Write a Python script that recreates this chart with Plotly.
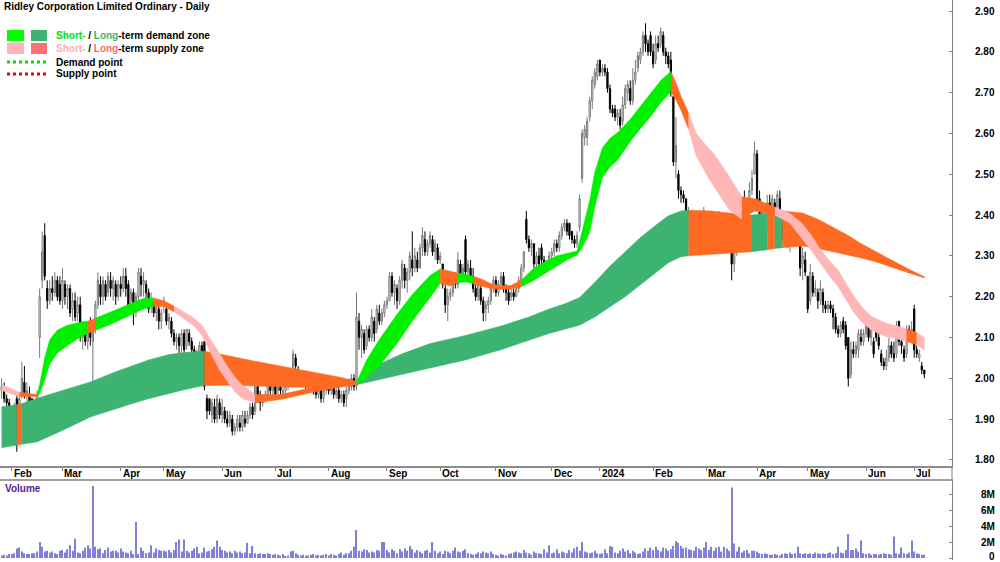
import pandas as pd
import plotly.graph_objects as go

# ---------------- data ----------------
TITLE = "Ridley Corporation Limited Ordinary - Daily"
START, END = "2023-01-25", "2024-07-05"
HOLIDAYS = ["2023-01-26", "2023-04-07", "2023-04-10", "2023-04-25", "2023-06-12",
            "2023-12-25", "2023-12-26", "2024-01-01", "2024-01-26", "2024-03-29",
            "2024-04-01", "2024-04-25", "2024-06-10"]
month_labels = ["Feb", "Mar", "Apr", "May", "Jun", "Jul", "Aug", "Sep", "Oct", "Nov",
                "Dec", "2024", "Feb", "Mar", "Apr", "May", "Jun", "Jul"]
price_ticks = [1.80, 1.90, 2.00, 2.10, 2.20, 2.30, 2.40, 2.50, 2.60, 2.70, 2.80, 2.90]
vol_ticks = [0, 2, 4, 6, 8]
vol_tick_text = ["0", "2M", "4M", "6M", "8M"]

opens = [
    1.97, 1.98, 1.95, 1.94,
    1.92, 1.91, 1.95, 1.87, 1.96, 1.99, 1.96, 1.96, 1.95, 1.89, 1.91, 2.10, 2.24, 2.35, 2.22, 2.19, 2.22, 2.21, 2.24, 2.23,
    2.19, 2.23, 2.20, 2.22, 2.17, 2.19, 2.16, 2.18, 2.10, 2.12, 2.09, 2.12, 2.09, 2.13, 2.18, 2.23, 2.20, 2.23, 2.21, 2.24, 2.22, 2.23, 2.20,
    2.23, 2.22, 2.25, 2.23, 2.19, 2.21, 2.17, 2.20, 2.25, 2.23, 2.23, 2.21, 2.18, 2.18, 2.16, 2.17, 2.14,
    2.18, 2.17, 2.14, 2.14, 2.11, 2.09, 2.10, 2.08, 2.11, 2.08, 2.11, 2.09, 2.07, 2.05, 2.06, 2.08, 2.09, 1.95, 1.95, 1.91, 1.93, 1.90, 1.94,
    1.91, 1.92, 1.90, 1.89, 1.90, 1.87, 1.88, 1.89, 1.88, 1.90, 1.89, 1.91, 1.93, 1.92, 1.98, 1.96, 1.94, 1.95, 1.95, 1.99, 1.97,
    2.00, 1.97, 1.98, 1.96, 1.97, 1.98, 2.00, 1.99, 2.05, 2.02, 2.00, 2.00, 1.99, 1.99, 1.98, 1.99, 1.97, 1.96, 1.97, 1.95, 1.97,
    1.98, 1.97, 1.98, 1.96, 1.97, 1.95, 1.96, 1.95, 1.97, 1.98, 2.00, 1.98, 2.14, 2.10, 2.11, 2.08, 2.12, 2.10, 2.14, 2.12, 2.16, 2.14, 2.16,
    2.18, 2.19, 2.25, 2.21, 2.22, 2.19, 2.24, 2.27, 2.24, 2.26, 2.29, 2.27, 2.29, 2.27, 2.32, 2.34, 2.31, 2.33, 2.34, 2.31, 2.32,
    2.29, 2.28, 2.22, 2.18, 2.20, 2.21, 2.24, 2.23, 2.28, 2.25, 2.34, 2.26, 2.27, 2.25, 2.22, 2.20, 2.22, 2.19, 2.17, 2.18, 2.19, 2.22,
    2.24, 2.21, 2.23, 2.25, 2.22, 2.21, 2.20, 2.21, 2.20, 2.22, 2.24, 2.27, 2.39, 2.34, 2.32, 2.33, 2.28, 2.30, 2.32, 2.29, 2.27, 2.28,
    2.30, 2.31, 2.33, 2.32, 2.35, 2.37, 2.38, 2.38, 2.36, 2.34, 2.33, 2.37, 2.49, 2.59, 2.59, 2.64, 2.68, 2.72, 2.74,
    2.78, 2.75, 2.76, 2.75, 2.71, 2.66, 2.66, 2.64, 2.64, 2.63, 2.67, 2.70, 2.71, 2.68, 2.73, 2.76, 2.78, 2.80, 2.84, 2.82, 2.84,
    2.80, 2.78, 2.82, 2.82, 2.84, 2.80, 2.79, 2.78, 2.69, 2.53, 2.50, 2.46, 2.45, 2.44, 2.35, 2.40, 2.38, 2.40, 2.36, 2.39, 2.38,
    2.40, 2.37, 2.40, 2.37, 2.39, 2.38, 2.39, 2.37, 2.35, 2.35, 2.31, 2.28, 2.31, 2.33, 2.35, 2.42, 2.39, 2.43, 2.46, 2.50,
    2.55, 2.44, 2.40, 2.36, 2.37, 2.43, 2.41, 2.43, 2.42, 2.44, 2.38, 2.35, 2.34, 2.34, 2.37, 2.38, 2.39, 2.34, 2.28, 2.29,
    2.25, 2.19, 2.25, 2.21, 2.21, 2.19, 2.21, 2.18, 2.17, 2.18, 2.17, 2.15, 2.12, 2.11, 2.14, 2.13, 2.10, 2.01, 2.07, 2.06, 2.07, 2.10, 2.09,
    2.11, 2.13, 2.10, 2.09, 2.14, 2.10, 2.06, 2.04, 2.03, 2.05, 2.08, 2.06, 2.06, 2.14, 2.09, 2.07, 2.06, 2.12, 2.10,
    2.17, 2.07, 2.05, 2.03, 2.02,
]
highs = [
    2.00, 1.99, 1.96, 1.95,
    1.93, 1.94, 1.96, 1.96, 2.04, 2.03, 1.99, 1.98, 1.95, 1.93, 1.97, 2.22, 2.36, 2.38, 2.24, 2.24, 2.25, 2.26, 2.25, 2.25,
    2.27, 2.24, 2.23, 2.23, 2.21, 2.21, 2.20, 2.20, 2.14, 2.13, 2.14, 2.15, 2.13, 2.19, 2.26, 2.25, 2.25, 2.24, 2.26, 2.26, 2.25, 2.24, 2.24,
    2.25, 2.27, 2.27, 2.24, 2.22, 2.22, 2.21, 2.27, 2.27, 2.26, 2.24, 2.22, 2.21, 2.19, 2.19, 2.18, 2.17,
    2.20, 2.18, 2.16, 2.15, 2.12, 2.11, 2.11, 2.12, 2.12, 2.12, 2.12, 2.10, 2.08, 2.07, 2.09, 2.09, 2.09, 1.96, 1.95, 1.95, 1.95, 1.96, 1.95,
    1.95, 1.93, 1.92, 1.92, 1.91, 1.89, 1.91, 1.91, 1.92, 1.92, 1.92, 1.94, 1.94, 2.00, 1.99, 1.97, 1.96, 1.97, 2.03, 2.00, 2.00,
    2.01, 1.99, 1.99, 1.98, 1.99, 2.02, 2.02, 2.07, 2.06, 2.03, 2.02, 2.01, 2.00, 2.00, 2.01, 2.00, 1.98, 1.98, 1.98, 1.98, 1.99,
    1.99, 2.00, 1.99, 1.98, 1.98, 1.97, 1.97, 1.98, 2.00, 2.01, 2.01, 2.21, 2.16, 2.13, 2.12, 2.13, 2.13, 2.17, 2.15, 2.18, 2.18, 2.17, 2.19,
    2.20, 2.26, 2.26, 2.24, 2.23, 2.25, 2.29, 2.28, 2.27, 2.31, 2.36, 2.32, 2.31, 2.33, 2.37, 2.36, 2.34, 2.36, 2.35, 2.34, 2.33,
    2.31, 2.28, 2.23, 2.22, 2.22, 2.25, 2.26, 2.31, 2.29, 2.28, 2.35, 2.29, 2.29, 2.27, 2.24, 2.24, 2.23, 2.20, 2.19, 2.20, 2.23, 2.25,
    2.25, 2.24, 2.26, 2.26, 2.23, 2.22, 2.22, 2.22, 2.23, 2.25, 2.28, 2.31, 2.41, 2.35, 2.34, 2.33, 2.31, 2.32, 2.33, 2.30, 2.29, 2.31,
    2.32, 2.34, 2.34, 2.36, 2.38, 2.39, 2.39, 2.38, 2.36, 2.35, 2.36, 2.45, 2.61, 2.62, 2.64, 2.69, 2.74, 2.76, 2.78,
    2.78, 2.77, 2.77, 2.76, 2.72, 2.67, 2.67, 2.66, 2.66, 2.69, 2.72, 2.73, 2.73, 2.76, 2.78, 2.80, 2.81, 2.85, 2.87, 2.83, 2.85,
    2.82, 2.84, 2.84, 2.86, 2.85, 2.81, 2.80, 2.80, 2.69, 2.64, 2.51, 2.47, 2.46, 2.44, 2.42, 2.41, 2.41, 2.41, 2.40, 2.40, 2.42,
    2.41, 2.41, 2.41, 2.40, 2.40, 2.41, 2.40, 2.38, 2.37, 2.35, 2.32, 2.32, 2.34, 2.36, 2.41, 2.46, 2.44, 2.48, 2.51, 2.58,
    2.56, 2.46, 2.41, 2.38, 2.45, 2.45, 2.45, 2.44, 2.46, 2.46, 2.39, 2.36, 2.36, 2.38, 2.39, 2.39, 2.40, 2.34, 2.32, 2.31,
    2.25, 2.28, 2.26, 2.24, 2.22, 2.24, 2.22, 2.19, 2.19, 2.19, 2.18, 2.16, 2.13, 2.14, 2.15, 2.14, 2.10, 2.09, 2.09, 2.09, 2.12, 2.12, 2.12,
    2.15, 2.14, 2.13, 2.10, 2.14, 2.11, 2.07, 2.05, 2.07, 2.10, 2.09, 2.09, 2.14, 2.14, 2.10, 2.08, 2.13, 2.13, 2.14,
    2.18, 2.08, 2.07, 2.04, 2.02,
]
lows = [
    1.95, 1.94, 1.92, 1.91,
    1.89, 1.90, 1.82, 1.85, 1.95, 1.95, 1.93, 1.91, 1.87, 1.87, 1.90, 2.05, 2.22, 2.24, 2.17, 2.18, 2.19, 2.20, 2.19, 2.18,
    2.17, 2.18, 2.17, 2.15, 2.14, 2.14, 2.14, 2.09, 2.07, 2.08, 2.07, 2.08, 1.98, 2.11, 2.17, 2.18, 2.18, 2.19, 2.20, 2.20, 2.19, 2.18, 2.19,
    2.20, 2.21, 2.20, 2.17, 2.16, 2.13, 2.15, 2.19, 2.20, 2.20, 2.19, 2.16, 2.16, 2.15, 2.14, 2.12, 2.12,
    2.16, 2.13, 2.12, 2.10, 2.08, 2.07, 2.04, 2.06, 2.06, 2.07, 2.08, 2.06, 2.04, 2.04, 2.05, 2.05, 1.97, 1.90, 1.91, 1.89, 1.89, 1.89, 1.90,
    1.89, 1.89, 1.88, 1.88, 1.86, 1.86, 1.87, 1.87, 1.87, 1.88, 1.89, 1.90, 1.90, 1.91, 1.94, 1.92, 1.93, 1.94, 1.95, 1.96, 1.96,
    1.95, 1.96, 1.96, 1.95, 1.96, 1.97, 1.98, 1.99, 2.01, 1.99, 1.99, 1.98, 1.97, 1.97, 1.97, 1.96, 1.95, 1.95, 1.94, 1.94, 1.96,
    1.96, 1.96, 1.95, 1.95, 1.94, 1.94, 1.93, 1.93, 1.96, 1.97, 1.97, 1.97, 2.07, 2.05, 2.06, 2.07, 2.09, 2.09, 2.09, 2.11, 2.13, 2.13, 2.15,
    2.17, 2.19, 2.20, 2.18, 2.17, 2.18, 2.22, 2.22, 2.21, 2.24, 2.25, 2.26, 2.26, 2.27, 2.30, 2.30, 2.30, 2.32, 2.30, 2.29, 2.28,
    2.28, 2.22, 2.16, 2.14, 2.19, 2.20, 2.22, 2.22, 2.24, 2.24, 2.25, 2.25, 2.24, 2.21, 2.19, 2.19, 2.18, 2.14, 2.14, 2.16, 2.18, 2.21,
    2.20, 2.20, 2.22, 2.21, 2.19, 2.18, 2.19, 2.19, 2.20, 2.21, 2.23, 2.26, 2.33, 2.31, 2.30, 2.27, 2.26, 2.27, 2.28, 2.26, 2.26, 2.27,
    2.29, 2.30, 2.31, 2.31, 2.34, 2.36, 2.35, 2.34, 2.33, 2.32, 2.32, 2.36, 2.48, 2.57, 2.57, 2.63, 2.66, 2.71, 2.73,
    2.74, 2.74, 2.74, 2.70, 2.65, 2.64, 2.63, 2.62, 2.61, 2.62, 2.66, 2.68, 2.67, 2.67, 2.72, 2.75, 2.77, 2.79, 2.80, 2.79, 2.79,
    2.76, 2.77, 2.80, 2.81, 2.79, 2.77, 2.76, 2.69, 2.52, 2.49, 2.44, 2.43, 2.43, 2.31, 2.34, 2.36, 2.37, 2.35, 2.35, 2.36, 2.37,
    2.36, 2.35, 2.36, 2.35, 2.37, 2.37, 2.35, 2.34, 2.33, 2.32, 2.24, 2.26, 2.30, 2.33, 2.34, 2.38, 2.38, 2.42, 2.45, 2.50,
    2.42, 2.39, 2.35, 2.35, 2.36, 2.39, 2.40, 2.40, 2.41, 2.37, 2.34, 2.33, 2.32, 2.31, 2.35, 2.35, 2.34, 2.25, 2.24, 2.25,
    2.16, 2.18, 2.20, 2.20, 2.17, 2.18, 2.16, 2.16, 2.16, 2.16, 2.12, 2.11, 2.10, 2.10, 2.11, 2.07, 1.98, 2.00, 2.05, 2.05, 2.05, 2.08, 2.08,
    2.10, 2.09, 2.08, 2.05, 2.09, 2.07, 2.03, 2.02, 2.02, 2.04, 2.05, 2.04, 2.05, 2.08, 2.06, 2.04, 2.05, 2.09, 2.09,
    2.05, 2.05, 2.04, 2.01, 2.00,
]
closes = [
    1.98, 1.95, 1.94, 1.92,
    1.91, 1.93, 1.86, 1.95, 2.00, 1.96, 1.97, 1.93, 1.88, 1.91, 1.96, 2.20, 2.31, 2.25, 2.19, 2.22, 2.21, 2.24, 2.20, 2.19,
    2.24, 2.20, 2.22, 2.16, 2.19, 2.15, 2.18, 2.10, 2.12, 2.09, 2.13, 2.10, 2.12, 2.18, 2.24, 2.20, 2.24, 2.20, 2.25, 2.22, 2.24, 2.20, 2.23,
    2.22, 2.25, 2.22, 2.18, 2.21, 2.16, 2.20, 2.26, 2.23, 2.24, 2.21, 2.17, 2.19, 2.16, 2.18, 2.14, 2.16,
    2.19, 2.14, 2.15, 2.11, 2.09, 2.10, 2.08, 2.11, 2.07, 2.12, 2.09, 2.07, 2.05, 2.06, 2.08, 2.06, 1.98, 1.92, 1.92, 1.94, 1.90, 1.95, 1.91,
    1.93, 1.90, 1.89, 1.91, 1.87, 1.88, 1.90, 1.88, 1.91, 1.89, 1.91, 1.93, 1.91, 1.99, 1.96, 1.94, 1.95, 1.96, 1.99, 1.97, 1.99,
    1.96, 1.98, 1.97, 1.97, 1.98, 2.00, 1.99, 2.06, 2.03, 2.00, 2.01, 1.99, 1.98, 1.98, 2.00, 1.97, 1.96, 1.97, 1.95, 1.97, 1.98,
    1.97, 1.99, 1.96, 1.97, 1.95, 1.96, 1.94, 1.97, 1.99, 2.00, 1.98, 2.15, 2.10, 2.12, 2.07, 2.12, 2.10, 2.15, 2.11, 2.17, 2.14, 2.16, 2.18,
    2.19, 2.25, 2.21, 2.23, 2.19, 2.24, 2.28, 2.24, 2.26, 2.30, 2.27, 2.30, 2.27, 2.32, 2.35, 2.31, 2.33, 2.35, 2.31, 2.33, 2.29,
    2.30, 2.23, 2.18, 2.20, 2.21, 2.24, 2.23, 2.29, 2.25, 2.27, 2.26, 2.28, 2.25, 2.22, 2.20, 2.23, 2.19, 2.16, 2.18, 2.19, 2.22, 2.24,
    2.21, 2.23, 2.25, 2.22, 2.21, 2.19, 2.21, 2.20, 2.22, 2.24, 2.27, 2.31, 2.34, 2.32, 2.33, 2.28, 2.30, 2.28, 2.29, 2.27, 2.28, 2.30,
    2.31, 2.33, 2.32, 2.35, 2.37, 2.38, 2.36, 2.35, 2.34, 2.33, 2.35, 2.44, 2.60, 2.61, 2.63, 2.68, 2.73, 2.75, 2.77,
    2.75, 2.76, 2.75, 2.71, 2.66, 2.65, 2.64, 2.65, 2.62, 2.67, 2.71, 2.72, 2.68, 2.73, 2.75, 2.79, 2.80, 2.84, 2.82, 2.80, 2.80,
    2.77, 2.82, 2.81, 2.85, 2.80, 2.79, 2.77, 2.70, 2.53, 2.57, 2.46, 2.45, 2.44, 2.33, 2.40, 2.38, 2.40, 2.36, 2.39, 2.37, 2.41,
    2.37, 2.40, 2.37, 2.39, 2.38, 2.40, 2.36, 2.35, 2.34, 2.32, 2.28, 2.31, 2.33, 2.35, 2.40, 2.39, 2.43, 2.46, 2.49, 2.55,
    2.44, 2.40, 2.36, 2.37, 2.43, 2.41, 2.44, 2.41, 2.45, 2.40, 2.35, 2.34, 2.35, 2.37, 2.38, 2.36, 2.34, 2.27, 2.30, 2.26,
    2.17, 2.26, 2.21, 2.22, 2.19, 2.22, 2.18, 2.17, 2.18, 2.17, 2.15, 2.12, 2.11, 2.13, 2.12, 2.08, 2.00, 2.07, 2.06, 2.08, 2.11, 2.09, 2.11,
    2.14, 2.10, 2.12, 2.06, 2.10, 2.08, 2.04, 2.03, 2.05, 2.08, 2.06, 2.05, 2.12, 2.09, 2.08, 2.05, 2.12, 2.10, 2.12,
    2.07, 2.06, 2.06, 2.02, 2.01,
]
volume_m = [
    0.3, 0.4, 0.3, 0.5,
    0.5, 0.6, 1.2, 1.3, 0.8, 0.6, 0.5, 0.5, 0.6, 0.6, 0.8, 2.0, 1.4, 0.8, 0.9, 0.7, 0.8, 0.6, 0.5, 0.9,
    1.0, 0.7, 1.1, 1.6, 0.9, 2.4, 0.7, 0.6, 0.9, 1.3, 1.6, 1.2, 9.0, 1.4, 1.1, 1.2, 0.6, 1.0, 1.3, 0.8, 0.9, 0.9, 0.7,
    1.2, 0.8, 0.7, 0.6, 0.9, 0.5, 4.5, 0.5, 1.3, 0.9, 0.6, 0.7, 1.6, 0.7, 1.2, 1.0, 0.9,
    0.9, 0.8, 1.0, 0.7, 1.0, 2.0, 2.3, 0.8, 2.3, 0.9, 0.7, 0.9, 1.2, 1.4, 0.6, 0.7, 1.3, 0.8, 0.9, 1.1, 1.4, 2.2, 1.4,
    1.0, 0.9, 0.7, 0.8, 0.6, 0.9, 0.7, 0.8, 0.6, 0.7, 1.9, 0.6, 1.5, 0.6, 0.5, 0.6, 0.5, 0.5, 0.6, 0.5, 0.4,
    0.5, 0.4, 0.3, 0.5, 0.2, 0.3, 0.8, 0.9, 0.6, 0.4, 0.3, 0.4, 0.3, 0.3, 0.4, 0.5, 0.3, 0.4, 0.3, 0.4, 0.5,
    0.3, 0.5, 0.4, 0.3, 0.5, 0.7, 0.4, 0.6, 0.6, 0.9, 1.4, 3.5, 0.9, 0.8, 1.1, 1.0, 0.7, 0.8, 0.7, 1.0, 0.9, 2.0, 2.0,
    1.0, 0.7, 1.1, 0.9, 0.6, 1.1, 0.8, 1.2, 0.9, 1.5, 1.1, 0.7, 1.0, 0.8, 0.6, 0.9, 1.0, 0.7, 2.0, 0.9, 0.6,
    0.8, 0.5, 0.9, 0.8, 0.6, 0.9, 1.3, 0.8, 0.7, 0.9, 1.1, 0.6, 0.5, 0.4, 0.5, 0.7, 0.6, 0.8, 0.7, 0.6, 0.8, 0.5,
    0.4, 0.3, 0.5, 0.4, 0.3, 0.5, 0.6, 0.7, 0.8, 0.7, 0.6, 1.0, 0.7, 0.6, 0.4, 0.8, 0.6, 0.6, 0.5, 1.1, 0.7, 1.6,
    0.6, 0.7, 1.1, 0.6, 0.8, 0.7, 0.6, 1.0, 0.7, 1.2, 1.4, 0.9, 2.0, 0.8, 0.7, 0.6, 0.7, 0.9, 0.6,
    0.5, 0.6, 1.1, 0.6, 1.5, 1.4, 0.7, 0.6, 0.9, 1.2, 0.8, 1.0, 0.6, 0.9, 0.7, 0.5, 0.6, 0.8, 1.2, 0.9, 1.3,
    1.0, 1.4, 1.0, 0.8, 1.3, 1.2, 0.9, 1.1, 1.5, 2.1, 1.9, 1.5, 1.2, 1.3, 1.1, 1.0, 0.9, 1.4, 1.2, 1.0, 1.3,
    2.0, 1.0, 1.4, 0.9, 1.3, 1.4, 0.8, 1.4, 1.2, 0.9, 8.8, 1.8, 0.8, 1.4, 0.7, 0.9, 1.0, 0.6, 0.9, 0.9,
    0.8, 0.6, 0.5, 0.6, 0.5, 0.4, 0.4, 0.5, 0.4, 0.3, 0.5, 0.6, 0.5, 0.7, 0.5, 0.6, 1.4, 0.6, 0.5, 0.6,
    0.5, 0.6, 0.5, 0.7, 0.6, 0.5, 0.6, 0.5, 0.6, 0.7, 0.5, 0.6, 1.4, 0.7, 0.6, 1.0, 3.0, 1.0, 1.0, 1.2, 0.8, 2.2, 0.6,
    0.5, 0.6, 0.4, 0.5, 0.5, 0.4, 0.5, 0.6, 0.5, 0.5, 0.4, 2.7, 0.6, 0.5, 1.3, 0.6, 0.5, 0.7, 2.2,
    0.8, 0.6, 0.5, 0.4, 0.4,
]

# short-term zone: sample day index, upper / lower edge, state of each interval
st_idx = [0, 7, 14, 15, 17, 19, 22, 26, 30, 34,
          37, 44, 52, 56, 60, 64, 68, 72, 76, 79,
          82, 86, 89, 92, 95, 100, 110, 126, 140, 144,
          149, 156, 162, 169, 173, 177, 180, 183, 186, 189,
          193, 197, 201, 205, 210, 215, 219, 223, 227, 229,
          232, 234, 237, 240, 243, 248, 252, 256, 260, 264,
          266, 268, 271, 274, 278, 281, 287, 292, 297, 305,
          311, 316, 320, 323, 327, 330, 333, 336, 339, 343,
          349, 353, 357, 361, 364]
st_hi = [1.985, 1.966, 1.960, 1.985, 2.050, 2.095, 2.118, 2.130, 2.136, 2.140,
         2.147, 2.165, 2.184, 2.196, 2.197, 2.190, 2.177, 2.163, 2.147, 2.130,
         2.100, 2.058, 2.030, 2.003, 1.983, 1.960, 1.960, 1.982, 1.990, 2.045,
         2.095, 2.157, 2.205, 2.252, 2.268, 2.262, 2.258, 2.255, 2.250, 2.244,
         2.232, 2.226, 2.228, 2.240, 2.270, 2.288, 2.300, 2.306, 2.312, 2.360,
         2.437, 2.505, 2.565, 2.588, 2.602, 2.635, 2.668, 2.698, 2.730, 2.752,
         2.725, 2.692, 2.650, 2.600, 2.570, 2.550, 2.495, 2.445, 2.440, 2.420,
         2.404, 2.378, 2.345, 2.316, 2.285, 2.265, 2.235, 2.203, 2.178, 2.152,
         2.135, 2.128, 2.122, 2.112, 2.100]
st_lo = [1.970, 1.955, 1.955, 1.962, 1.995, 2.035, 2.062, 2.080, 2.097, 2.110,
         2.117, 2.135, 2.158, 2.170, 2.176, 2.176, 2.163, 2.145, 2.128, 2.105,
         2.068, 2.020, 1.993, 1.967, 1.950, 1.940, 1.948, 1.970, 1.985, 2.002,
         2.030, 2.085, 2.140, 2.198, 2.232, 2.226, 2.234, 2.236, 2.232, 2.226,
         2.220, 2.218, 2.219, 2.224, 2.240, 2.260, 2.275, 2.290, 2.302, 2.320,
         2.358, 2.420, 2.492, 2.518, 2.535, 2.580, 2.612, 2.641, 2.675, 2.702,
         2.682, 2.657, 2.610, 2.545, 2.500, 2.470, 2.413, 2.390, 2.410, 2.400,
         2.380, 2.340, 2.308, 2.282, 2.247, 2.224, 2.193, 2.163, 2.140, 2.118,
         2.102, 2.097, 2.090, 2.082, 2.070]
st_state = ["P", "O", "G", "G", "G", "G", "G", "G", "G", "O",
            "G", "G", "G", "G", "O", "O", "P", "P", "P", "P",
            "P", "P", "P", "P", "P", "O", "O", "O", "G", "G",
            "G", "G", "G", "G", "O", "O", "G", "G", "O", "O",
            "O", "O", "O", "G", "G", "G", "G", "G", "G", "G",
            "G", "G", "G", "G", "G", "G", "G", "G", "G", "O",
            "O", "O", "P", "P", "P", "P", "P", "O", "O", "P",
            "P", "P", "P", "P", "P", "P", "P", "P", "P", "P",
            "P", "P", "O", "P"]

# long-term zone
lt_idx = [0, 6, 8, 14, 25, 35, 45, 51, 58, 66,
          72, 78, 80, 89, 98, 108, 118, 126, 134, 140,
          149, 158, 169, 183, 197, 208, 216, 222, 228, 234,
          240, 246, 252, 258, 263, 268, 271, 280, 287, 296,
          302, 305, 308, 316, 322, 328, 334, 339, 345, 351,
          357, 364]
lt_hi = [1.930, 1.935, 1.938, 1.951, 1.972, 1.991, 2.016, 2.030, 2.045, 2.058,
         2.063, 2.066, 2.066, 2.056, 2.044, 2.032, 2.021, 2.012, 2.002, 1.992,
         2.035, 2.060, 2.085, 2.105, 2.128, 2.150, 2.170, 2.182, 2.198, 2.235,
         2.275, 2.310, 2.345, 2.375, 2.398, 2.410, 2.412, 2.410, 2.405, 2.400,
         2.405, 2.408, 2.410, 2.405, 2.390, 2.370, 2.350, 2.330, 2.310, 2.290,
         2.270, 2.249]
lt_lo = [1.830, 1.836, 1.838, 1.844, 1.875, 1.905, 1.925, 1.937, 1.950, 1.963,
         1.972, 1.980, 1.982, 1.983, 1.982, 1.980, 1.978, 1.978, 1.980, 1.984,
         1.995, 2.008, 2.025, 2.045, 2.070, 2.093, 2.110, 2.120, 2.130, 2.150,
         2.175, 2.200, 2.228, 2.258, 2.283, 2.298, 2.300, 2.303, 2.306, 2.310,
         2.315, 2.318, 2.320, 2.324, 2.318, 2.310, 2.302, 2.295, 2.285, 2.272,
         2.260, 2.246]
lt_state = ["D", "O", "D", "D", "D", "D", "D", "D", "D", "D",
            "D", "D", "O", "O", "O", "O", "O", "O", "O", "D",
            "D", "D", "D", "D", "D", "D", "D", "D", "D", "D",
            "D", "D", "D", "D", "D", "D", "O", "O", "O", "D",
            "O", "D", "O", "O", "O", "O", "O", "O", "O", "O",
            "O"]

# ---------------- style ----------------
FONT = "Liberation Sans, Arial, sans-serif"
C_ST = {"G": "#00F000", "P": "#FFB6B6", "O": "#FF6A22"}
C_LT = {"D": "#3CB371", "O": "#FF6A22"}
W, H = 1000, 562
ML, MR, MT, MB = 0, 48, 0, 2
PW, PH = W - ML - MR, H - MT - MB


def pxx(x):
    return (x - ML) / PW


def pxy(y):
    return (PH - (y - MT)) / PH


# ---------------- x positions ----------------
hol = set(HOLIDAYS)
dates = [d for d in pd.bdate_range(START, END) if d.strftime("%Y-%m-%d") not in hol]
n = len(closes)
dates = dates[:n]
xs = list(range(n))
month_pos = [i for i in range(1, len(dates)) if dates[i].month != dates[i - 1].month]

fig = go.Figure()


def add_band(idx, hi, lo, states, cmap):
    runs = []
    start = 0
    for k in range(1, len(states) + 1):
        if k == len(states) or states[k] != states[start]:
            runs.append((start, k, states[start]))
            start = k
    for a, b, s in runs:
        px = [idx[j] for j in range(a, b + 1)] + [idx[j] for j in range(b, a - 1, -1)]
        py = [hi[j] for j in range(a, b + 1)] + [lo[j] for j in range(b, a - 1, -1)]
        fig.add_trace(go.Scatter(x=px, y=py, mode="lines", fill="toself", fillcolor=cmap[s],
                                 line=dict(width=0.5, color=cmap[s]), hoverinfo="skip",
                                 showlegend=False, xaxis="x", yaxis="y"))


add_band(lt_idx, lt_hi, lt_lo, lt_state, C_LT)
add_band(st_idx, st_hi, st_lo, st_state, C_ST)

fig.add_trace(go.Candlestick(
    x=xs, open=opens, high=highs, low=lows, close=closes,
    increasing=dict(line=dict(color="#777777", width=1), fillcolor="#ffffff"),
    decreasing=dict(line=dict(color="#000000", width=1), fillcolor="#000000"),
    whiskerwidth=0, showlegend=False, xaxis="x", yaxis="y"))

fig.add_trace(go.Bar(x=xs, y=volume_m, width=0.45, marker=dict(color="#8080D8", line=dict(width=0)),
                     showlegend=False, xaxis="x2", yaxis="y2"))

xr = [(0 - 1.6) / 2.535, (PW - 1.6) / 2.535]
fig.update_layout(
    width=W, height=H, margin=dict(l=ML, r=MR, t=MT, b=MB),
    paper_bgcolor="white", plot_bgcolor="white", showlegend=False,
    font=dict(family=FONT, size=10, color="black"),
    xaxis=dict(domain=[0, 1], anchor="y", range=xr, showgrid=False, zeroline=False,
               tickvals=month_pos, ticks="outside", ticklen=3, tickcolor="#808080",
               showticklabels=False, showline=True, linecolor="#8c8c8c", linewidth=2,
               rangeslider=dict(visible=False), fixedrange=True),
    yaxis=dict(domain=[pxy(466), 1], anchor="x", range=[1.785, 2.927], side="right",
               showgrid=False, zeroline=False, tickvals=price_ticks, ticks="inside",
               ticklen=3, tickcolor="#808080", showticklabels=False,
               showline=True, linecolor="#808080", linewidth=1),
    xaxis2=dict(domain=[0, 1], anchor="y2", range=xr, showgrid=False, zeroline=False,
                side="top", showline=True, linecolor="#a0a0a0", linewidth=2,
                showticklabels=False, ticks=""),
    yaxis2=dict(domain=[0, pxy(481)], anchor="x2", range=[-0.25, 9.625], side="right",
                showgrid=False, zeroline=False, tickvals=vol_ticks, ticks="inside",
                ticklen=3, tickcolor="#808080", showticklabels=False,
                showline=True, linecolor="#808080", linewidth=1),
)

ann = []
lab_x = pxx(997)
for v in price_ticks:
    ann.append(dict(x=lab_x, xref="paper", y=v, yref="y", text="<b>%.2f</b>" % v,
                    xanchor="right", yanchor="middle", showarrow=False,
                    font=dict(size=10, family=FONT, color="black")))
for v, t in zip(vol_ticks, vol_tick_text):
    ann.append(dict(x=lab_x, xref="paper", y=v, yref="y2", text="<b>%s</b>" % t,
                    xanchor="right", yanchor="middle", showarrow=False,
                    yshift=2 if v == 0 else 0,
                    font=dict(size=10, family=FONT, color="black")))
for p, t in zip(month_pos, month_labels):
    ann.append(dict(x=p, xref="x", y=pxy(473), yref="paper", text="<b>%s</b>" % t,
                    xanchor="left", yanchor="middle", showarrow=False,
                    font=dict(size=10, family=FONT, color="black")))
ann.append(dict(x=pxx(2), xref="paper", y=pxy(7), yref="paper", text="<b>%s</b>" % TITLE,
                xanchor="left", yanchor="middle", showarrow=False,
                font=dict(size=10, family=FONT, color="black")))
ann.append(dict(x=pxx(3), xref="paper", y=pxy(488), yref="paper", text="<b>Volume</b>",
                xanchor="left", yanchor="middle", showarrow=False,
                font=dict(size=10, family=FONT, color="#5A1A96")))
legend_rows = [
    (35, "<b><span style='color:#00E000'>Short-</span> / <span style='color:#3CB371'>Long</span>-term demand zone</b>"),
    (48, "<b><span style='color:#FFB0B0'>Short-</span> / <span style='color:#FF6666'>Long</span>-term supply zone</b>"),
    (62, "<b>Demand point</b>"),
    (74, "<b>Supply point</b>"),
]
for yy, t in legend_rows:
    ann.append(dict(x=pxx(54), xref="paper", y=pxy(yy), yref="paper", text=t,
                    xanchor="left", yanchor="middle", showarrow=False,
                    font=dict(size=10, family=FONT, color="black")))
fig.update_layout(annotations=ann)

shapes = []
for (x0, x1, y0, y1, c) in [(7, 24, 30, 41, "#00FF00"), (31, 47, 30, 41, "#3CB371"),
                            (7, 24, 43, 54, "#FFB6B6"), (31, 47, 43, 54, "#FF7070")]:
    shapes.append(dict(type="rect", xref="paper", yref="paper", x0=pxx(x0), x1=pxx(x1),
                       y0=pxy(y1), y1=pxy(y0), fillcolor=c, line=dict(width=0)))
shapes.append(dict(type="line", xref="paper", yref="paper", x0=pxx(7), x1=pxx(46),
                   y0=pxy(62), y1=pxy(62), line=dict(color="#00DD00", width=3, dash="dot")))
shapes.append(dict(type="line", xref="paper", yref="paper", x0=pxx(7), x1=pxx(46),
                   y0=pxy(74), y1=pxy(74), line=dict(color="#EE0000", width=3, dash="dot")))
shapes.append(dict(type="line", xref="paper", yref="paper", x0=1, x1=1,
                   y0=pxy(481), y1=pxy(466), line=dict(color="#808080", width=1)))
fig.update_layout(shapes=shapes)

fig.write_html("out.html")
